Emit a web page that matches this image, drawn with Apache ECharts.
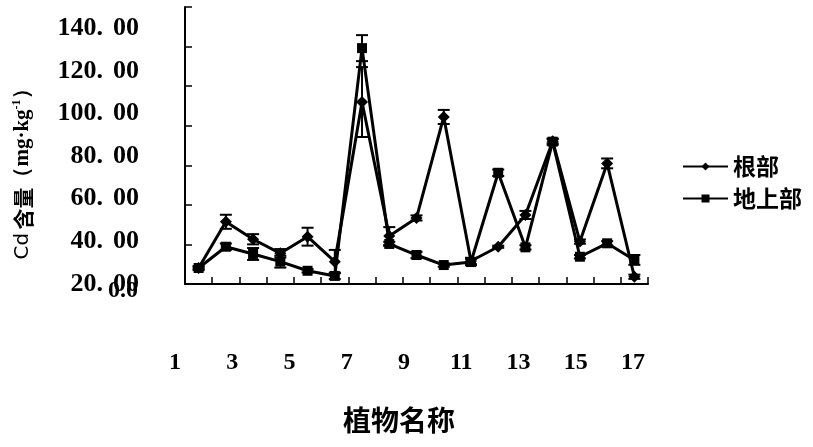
<!DOCTYPE html>
<html>
<head>
<meta charset="utf-8">
<script src="https://cdn.jsdelivr.net/npm/echarts@6/dist/echarts.min.js"></script>
<style>html,body{margin:0;padding:0;background:#fff}#c{width:813px;height:447px}</style>
</head>
<body>
<div id="c"></div>
<script>
// plant index categories
const categories = ['1','2','3','4','5','6','7','8','9','10','11','12','13','14','15','16','17'];
// tick labels printed under the axis
const xTickLabels = ['1','3','5','7','9','11','13','15','17'];
// 根部 (root) Cd content, mg/kg, and its error half-widths
const rootValues = [27.5, 49.2, 41.0, 34.4, 42.2, 30.5, 105.4, 42.5, 51.0, 98.4, 30.8, 37.5, 52.4, 87.0, 39.9, 76.6, 23.4];
const rootErrors = [0.5, 3.3, 2.4, 2.0, 4.2, 5.5, 16.4, 4.2, 1.2, 3.3, 1.5, 0.5, 1.9, 1.0, 1.0, 2.3, 1.0];
// 地上部 (shoot) Cd content, mg/kg, and its error half-widths
const shootValues = [27.5, 37.5, 34.1, 30.5, 26.2, 23.8, 130.7, 38.8, 33.6, 28.9, 30.3, 72.2, 37.2, 86.8, 32.8, 39.1, 31.3];
const shootErrors = [1.0, 1.5, 2.8, 2.8, 0.8, 1.5, 6.1, 1.0, 1.5, 0.8, 1.5, 1.5, 1.0, 1.5, 0.8, 1.0, 2.3];

const SERIF = 'Liberation Serif';
const CJK = 'Noto Sans CJK SC';

function errData(vals, errs) { return vals.map((v, i) => [i, v, errs[i]]); }
function renderErr(params, api) {
  const x = api.value(0), y = api.value(1), e = api.value(2);
  const top = api.coord([x, y + e]);
  const bot = api.coord([x, y - e]);
  const w = 6;
  const style = { stroke: '#000', lineWidth: 2 };
  return {
    type: 'group',
    children: [
      { type: 'line', shape: { x1: top[0], y1: top[1], x2: bot[0], y2: bot[1] }, style: style },
      { type: 'line', shape: { x1: top[0] - w, y1: top[1], x2: top[0] + w, y2: top[1] }, style: style },
      { type: 'line', shape: { x1: bot[0] - w, y1: bot[1], x2: bot[0] + w, y2: bot[1] }, style: style }
    ]
  };
}

const chart = echarts.init(document.getElementById('c'), null, { renderer: 'canvas' });
const labelFont = { fontFamily: SERIF, fontWeight: 'bold', fontSize: 26, color: '#000' };

chart.setOption({
  animation: false,
  backgroundColor: '#fff',
  grid: [
    { left: 185, top: 7, width: 463, height: 277 },
    { left: 175, top: 300, width: 458, height: 40 }
  ],
  legend: {
    orient: 'vertical',
    left: 677,
    top: 150,
    itemWidth: 45,
    itemHeight: 10,
    itemGap: 9,
    data: ['根部', '地上部'],
    textStyle: { fontFamily: CJK, fontSize: 23, fontWeight: 'bold', color: '#000' }
  },
  xAxis: [
    {
      type: 'category', gridIndex: 0, data: categories, boundaryGap: true,
      axisLine: { show: true, lineStyle: { color: '#000', width: 2 } },
      axisTick: { show: true, inside: true, length: 7, interval: 0, lineStyle: { color: '#000', width: 1.5 } },
      axisLabel: { show: false },
      splitLine: { show: false }
    },
    {
      type: 'category', gridIndex: 1, data: xTickLabels, boundaryGap: false,
      axisLine: { show: false }, axisTick: { show: false }, splitLine: { show: false },
      axisLabel: { show: true, interval: 0, margin: 11, fontFamily: SERIF, fontWeight: 'bold', fontSize: 24, color: '#000' }
    }
  ],
  yAxis: [
    {
      type: 'value', gridIndex: 0, min: 20, max: 150, interval: 20, position: 'left',
      axisLine: { show: false }, axisTick: { show: false }, splitLine: { show: false },
      axisLabel: {
        show: true, margin: 46, showMaxLabel: false,
        formatter: function (v) {
          const parts = v.toFixed(2).split('.');
          return '{n|' + parts[0] + '}{p|.}{n|' + parts[1] + '}';
        },
        rich: {
          n: labelFont,
          p: Object.assign({}, labelFont, { padding: [0, 10, 0, 0] })
        }
      }
    },
    {
      type: 'value', gridIndex: 0, min: 0, max: 140, interval: 20, position: 'left',
      axisLine: { show: true, lineStyle: { color: '#000', width: 2 } },
      axisTick: { show: true, inside: true, length: 7, lineStyle: { color: '#000', width: 1.5 } },
      axisLabel: { show: false }, splitLine: { show: false }
    },
    { type: 'value', gridIndex: 1, show: false }
  ],
  graphic: [
    {
      type: 'text', x: 23, y: 169, rotation: Math.PI / 2,
      style: {
        text: '{c|Cd} {z|含量}{m|（mg·kg}{s|-1}{m|）}',
        align: 'center', verticalAlign: 'middle',
        rich: {
          c: { fontFamily: 'DejaVu Sans', fontSize: 20, fill: '#000', lineHeight: 24 },
          z: { fontFamily: CJK, fontWeight: 'bold', fontSize: 21, fill: '#000', lineHeight: 24 },
          m: { fontFamily: SERIF, fontWeight: 'bold', fontSize: 21, fill: '#000', lineHeight: 24 },
          s: { fontFamily: SERIF, fontWeight: 'bold', fontSize: 12, fill: '#000', lineHeight: 24, verticalAlign: 'top' }
        }
      }
    },
    {
      type: 'text', x: 399, y: 420,
      style: { text: '植物名称', align: 'center', verticalAlign: 'middle', fontFamily: CJK, fontWeight: 'bold', fontSize: 28, fill: '#000' }
    },
    {
      type: 'text', x: 108, y: 291,
      style: { text: '0.0', align: 'left', verticalAlign: 'middle', fontFamily: SERIF, fontWeight: 'bold', fontSize: 24, fill: '#000' }
    }
  ],
  series: [
    {
      name: '根部', type: 'line', xAxisIndex: 0, yAxisIndex: 0, data: rootValues,
      symbol: 'diamond', symbolSize: 12,
      lineStyle: { color: '#000', width: 3 }, itemStyle: { color: '#000' }, z: 3
    },
    {
      name: '地上部', type: 'line', xAxisIndex: 0, yAxisIndex: 0, data: shootValues,
      symbol: 'rect', symbolSize: 10,
      lineStyle: { color: '#000', width: 3 }, itemStyle: { color: '#000' }, z: 3
    },
    {
      name: '根部误差', type: 'custom', xAxisIndex: 0, yAxisIndex: 0,
      data: errData(rootValues, rootErrors), renderItem: renderErr, encode: { x: 0, y: 1 }, z: 4
    },
    {
      name: '地上部误差', type: 'custom', xAxisIndex: 0, yAxisIndex: 0,
      data: errData(shootValues, shootErrors), renderItem: renderErr, encode: { x: 0, y: 1 }, z: 4
    }
  ]
});
</script>
</body>
</html>
